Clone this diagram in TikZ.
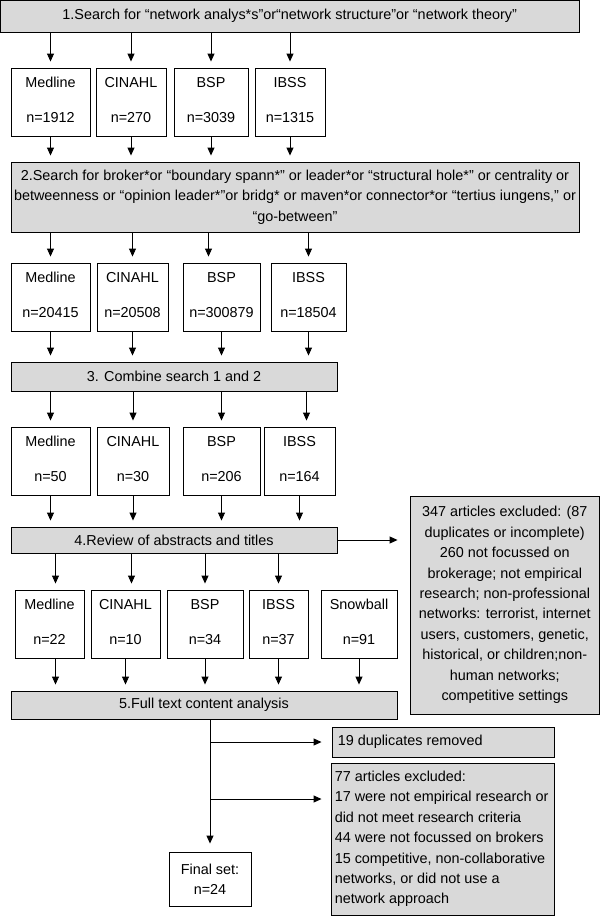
\documentclass[tikz,border=0pt]{standalone}
\usepackage{fontspec}
\setmainfont{Liberation Sans}
\usetikzlibrary{arrows.meta}
\definecolor{boxgray}{RGB}{217,217,217}
\newcommand\bx[7]{\node[#1, minimum width={(#5-#3)*1pt}, minimum height={(#6-#4)*1pt}] (#2) at ({(#3+#5)/2},{(#4+#6)/2}) {#7};}
\newcommand\db[7]{\bx{whitebox}{#1}{#2}{#3}{#4}{#5}{}%
 \node[lbl] (#1a) at ([yshift=-15pt]#1.north) {#6};%
 \node[lbl] (#1b) at ([yshift=-50pt]#1.north) {#7};}
\begin{document}
\begin{tikzpicture}[x=1pt,y=-1pt,
  font=\fontsize{14.4}{20.4}\selectfont,
  graybox/.style={draw=black,line width=0.9pt,fill=boxgray,inner sep=0pt},
  whitebox/.style={draw=black,line width=0.9pt,fill=white,inner sep=0pt},
  lbl/.style={inner sep=0pt},
  arr/.style={draw=black,line width=0.9pt,-{Triangle[length=8pt,width=7pt]},shorten >=6pt}]
\useasboundingbox (0,0) rectangle (600,916);
% step 1
\bx{graybox}{s1}{0.5}{0.5}{579}{32}{1.Search for “network analys*s”or“network structure”or “network theory”}
\db{a1}{11}{68}{90}{136}{Medline}{n=1912}
\db{b1}{96}{68}{166}{136}{CINAHL}{n=270}
\db{c1}{174}{68}{248}{136}{BSP}{n=3039}
\db{d1}{255}{68}{325}{136}{IBSS}{n=1315}
% step 2
\bx{graybox,align=center}{s2}{11}{162}{579}{232}{2.Search for broker*or “boundary spann*” or leader*or “structural hole*” or centrality or\\betweenness or “opinion leader*”or bridg* or maven*or connector*or “tertius iungens,” or\\“go-between”}
\db{a2}{11}{263}{90}{331}{Medline}{n=20415}
\db{b2}{97}{263}{168}{331}{CINAHL}{n=20508}
\db{c2}{183}{263}{260}{331}{BSP}{n=300879}
\db{d2}{271}{263}{346}{331}{IBSS}{n=18504}
% step 3
\bx{graybox}{s3}{11}{362}{337}{391}{3. Combine search 1 and 2}
\db{a3}{11}{427}{90}{495}{Medline}{n=50}
\db{b3}{97}{427}{169}{495}{CINAHL}{n=30}
\db{c3}{183}{427}{260}{495}{BSP}{n=206}
\db{d3}{264}{427}{335}{495}{IBSS}{n=164}
% step 4
\bx{graybox}{s4}{11}{527}{337}{553}{4.Review of abstracts and titles}
\bx{graybox,align=center}{ex1}{410}{496}{599.5}{714}{347 articles excluded: (87\\duplicates or incomplete)\\260 not focussed on\\brokerage; not empirical\\research; non-professional\\networks: terrorist, internet\\users, customers, genetic,\\historical, or children;non-\\human networks;\\competitive settings}
\db{a4}{15}{590}{84}{658}{Medline}{n=22}
\db{b4}{91}{590}{160}{658}{CINAHL}{n=10}
\db{c4}{167}{590}{243}{658}{BSP}{n=34}
\db{d4}{249}{590}{308}{658}{IBSS}{n=37}
\db{e4}{321}{590}{397}{658}{Snowball}{n=91}
% step 5
\bx{graybox}{s5}{11}{691}{397}{719}{5.Full text content analysis}
\bx{graybox}{dup}{332}{727}{554}{757}{}
\node[lbl,anchor=west] (dupt) at ([xshift=6pt]dup.west) {19 duplicates removed};
\bx{graybox}{ex2}{331}{763}{554}{915}{}
\node[lbl,anchor=west,align=left] (ex2t) at ([xshift=4pt]ex2.west) {77 articles excluded:\\17 were not empirical research or\\did not meet research criteria\\44 were not focussed on brokers\\15 competitive, non-collaborative\\networks, or did not use a\\network approach};
\bx{whitebox,align=center}{fin}{169}{852}{251}{906}{Final set:\\n=24}
% connectors
\foreach \n in {a1,b1,c1,d1} {
  \draw[arr] (s1.south -| \n.north) -- (\n.north);
  \draw[arr] (\n.south) -- (\n.south |- s2.north);
}
\coordinate (c2t) at ([xshift=-13pt]c2.north);
\foreach \n in {a2,b2,c2t,d2} \draw[arr] (s2.south -| \n) -- (\n |- c2.north);
\foreach \n in {a2,b2,c2,d2} \draw[arr] (\n.south) -- (\n.south |- s3.north);
\coordinate (d3t) at ([xshift=7pt]d3.north);
\foreach \n in {a3,b3,c3,d3t} \draw[arr] (s3.south -| \n) -- (\n |- a3.north);
\foreach \n in {a3,b3,c3,d3} \draw[arr] (\n.south) -- (\n.south |- s4.north);
\coordinate (a4t) at ([xshift=6pt]a4.north);
\coordinate (b4t) at ([xshift=6pt]b4.north);
\foreach \n in {a4t,b4t,c4,d4} \draw[arr] (s4.south -| \n) -- (\n |- a4.north);
\coordinate (a4s) at ([xshift=6pt]a4.south);
\foreach \n in {a4s,b4,c4,d4,e4} \draw[arr] (\n |- a4.south) -- (\n |- s5.north);
\draw[arr,shorten >=12pt] (s4.east) -- (s4.east -| ex1.west);
\draw[arr,shorten >=8pt] (s5.south -| fin.north) -- (fin.north);
\draw[arr,shorten >=10pt] (fin.north |- dup.west) -- (dup.west);
\coordinate (k2) at (0,799);
\draw[arr,shorten >=9pt] (fin.north |- k2) -- (ex2.west |- k2);
\end{tikzpicture}
\end{document}
